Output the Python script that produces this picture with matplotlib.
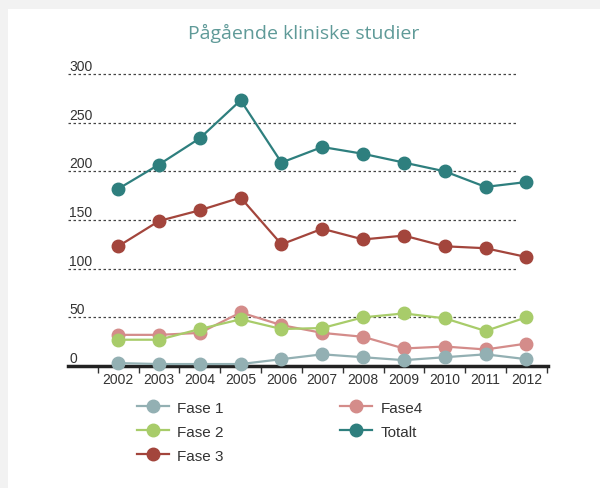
import matplotlib
matplotlib.use("Agg")
import matplotlib.pyplot as plt
from matplotlib.patches import Rectangle

# data
years = ["2002", "2003", "2004", "2005", "2006", "2007", "2008", "2009", "2010", "2011", "2012"]
fase1 = [3, 2, 2, 2, 7, 12, 9, 6, 9, 12, 7]
fase2 = [27, 27, 38, 48, 38, 39, 50, 54, 49, 36, 50]
fase3 = [123, 149, 160, 173, 125, 141, 130, 134, 123, 121, 112]
fase4 = [32, 32, 34, 55, 42, 34, 30, 18, 20, 17, 23]
totalt = [182, 207, 234, 273, 209, 225, 218, 209, 200, 184, 189]
yticks = [0, 50, 100, 150, 200, 250, 300]

W, H = 600, 489
fig = plt.figure(figsize=(W / 100, H / 100), dpi=100)
fig.patch.set_facecolor("#f2f2f2")
fig.patches.append(Rectangle((8 / W, 0), 1, (H - 10) / H, transform=fig.transFigure,
                             facecolor="white", edgecolor="none", zorder=-5))

ax = fig.add_axes([68 / W, (H - 367) / H, 480 / W, 292 / H])
ax.set_zorder(2)
ax.set_facecolor("none")
x = list(range(len(years)))
ax.set_xlim(-1.23, 10.53)
ax.set_ylim(0, 300)

# gridlines + labels
for v in yticks:
    if v > 0:
        ax.plot([-1.23, 9.8], [v, v], ls=(0, (2, 2)), color="#444444", lw=0.9, zorder=1,
                clip_on=False)
    ax.text(-1.2, v + 1, str(v), ha="left", va="bottom", fontsize=10,
            family="Liberation Sans", color="#333333")

series = [
    ("Fase4", fase4, "#d48c8a"),
    ("Fase 1", fase1, "#93b0b3"),
    ("Fase 2", fase2, "#a8cc6a"),
    ("Fase 3", fase3, "#a3453c"),
    ("Totalt", totalt, "#2e7f7e"),
]
handles = {}
for name, vals, col in series:
    h, = ax.plot(x, vals, color=col, lw=1.6, marker="o", markersize=9,
                 label=name, clip_on=False, zorder=3)
    handles[name] = h

# axis styling
for s in ["top", "right", "left"]:
    ax.spines[s].set_visible(False)
ax.spines["bottom"].set_color("#222222")
ax.spines["bottom"].set_linewidth(2.5)
ax.spines["bottom"].set_zorder(2)
ax.set_yticks([])
ax.set_xticks(x)
ax.set_xticklabels(years, fontsize=10, family="Liberation Sans", color="#333333")
ax.set_xticks([i - 0.5 for i in range(len(years) + 1)], minor=True)
ax.tick_params(axis="x", which="major", length=0, pad=4)
ax.tick_params(axis="x", which="minor", length=5, width=1, color="#333333", direction="out")

order = ["Fase 1", "Fase 2", "Fase 3", "Fase4", "Totalt"]
leg = fig.legend([handles[n] for n in order], order, ncol=2, loc="upper left",
                 bbox_to_anchor=(123 / W, 1 - 388 / H), frameon=False,
                 prop={"family": "Liberation Sans", "size": 11}, handlelength=2.1,
                 columnspacing=7.6, labelspacing=0.65, handletextpad=0.55)
for t in leg.get_texts():
    t.set_color("#333333")

fig.text(304 / W, 1 - 33 / H, "Pågående kliniske studier", ha="center", va="center",
         fontsize=14, family="Open Sans", color="#5f9a98")

fig.savefig("out.png", dpi=100, facecolor=fig.get_facecolor())
